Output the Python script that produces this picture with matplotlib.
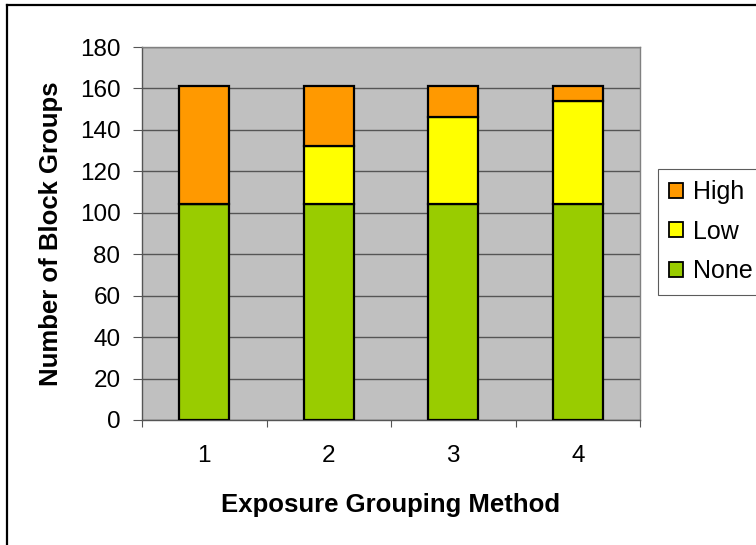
import matplotlib
matplotlib.use("Agg")
import matplotlib.pyplot as plt
from matplotlib.lines import Line2D
from matplotlib.patches import Patch
from matplotlib.ticker import FixedLocator, NullFormatter

categories = ["1", "2", "3", "4"]
none_vals = [104, 104, 104, 104]
low_vals = [0, 28, 42, 50]
high_vals = [57, 29, 15, 7]
series_names = ["High", "Low", "None"]
colors = {"None": "#99CC00", "Low": "#FFFF00", "High": "#FF9900"}
yticks = [0, 20, 40, 60, 80, 100, 120, 140, 160, 180]

plt.rcParams['font.family'] = ['Liberation Sans', 'DejaVu Sans']

W, H = 756, 545
fig = plt.figure(figsize=(W/100, H/100), dpi=100)
# outer frame (only left and top visible in the reference)
fig.add_artist(Line2D([7/W, 7/W], [0, 1-5/H], transform=fig.transFigure, color='black', linewidth=1.6))
fig.add_artist(Line2D([7/W, 1], [1-5/H, 1-5/H], transform=fig.transFigure, color='black', linewidth=1.6))

ax = fig.add_axes([142/W, 1-420/H, (640-142)/W, (420-47)/H])
ax.set_facecolor('#C0C0C0')

x = list(range(1, len(categories)+1))
w = 0.4
bottom_low = none_vals
bottom_high = [a+b for a, b in zip(none_vals, low_vals)]
ax.bar(x, none_vals, w, color=colors["None"], edgecolor='black', linewidth=1.6, zorder=3)
ax.bar(x, low_vals, w, bottom=bottom_low, color=colors["Low"], edgecolor='black', linewidth=1.6, zorder=3)
ax.bar(x, high_vals, w, bottom=bottom_high, color=colors["High"], edgecolor='black', linewidth=1.6, zorder=3)

ax.set_xlim(0.5, len(categories)+0.5)
ax.set_ylim(0, 180)
ax.set_yticks(yticks)
ax.yaxis.grid(True, color='#555555', linewidth=1.0, zorder=1)
ax.set_axisbelow(True)

ax.xaxis.set_major_locator(FixedLocator([i+0.5 for i in range(len(categories)+1)]))
ax.xaxis.set_major_formatter(NullFormatter())
ax.xaxis.set_minor_locator(FixedLocator(x))
ax.set_xticklabels(categories, minor=True)
ax.tick_params(axis='x', which='major', length=5, color='#555555', direction='out')
ax.tick_params(axis='x', which='minor', length=0, labelsize=17.5, pad=18)
ax.tick_params(axis='y', length=6.5, color='#555555', labelsize=17.5, pad=9, direction='out')

for s in ['top', 'right']:
    ax.spines[s].set_color('#808080')
    ax.spines[s].set_linewidth(1.0)
for s in ['left', 'bottom']:
    ax.spines[s].set_color('#555555')
    ax.spines[s].set_linewidth(1.0)

ax.set_ylabel("Number of Block Groups", fontsize=18.5, fontweight='bold')
ax.yaxis.label.set_va('center')
ax.yaxis.set_label_coords((51-142)/498, 0.5)
ax.set_xlabel("Exposure Grouping Method", fontsize=18.5, fontweight='bold')
ax.xaxis.label.set_va('baseline')
ax.xaxis.set_label_coords(0.5, (420-512)/373)

handles = [Patch(facecolor=colors[n], edgecolor='black', linewidth=1.3) for n in series_names]
leg = fig.legend(handles, series_names, loc='upper left', bbox_to_anchor=(658/W, 1-169/H),
                 fontsize=18, frameon=True, fancybox=False, edgecolor='#333333',
                 handlelength=0.55, handleheight=0.55, handletextpad=0.4, labelspacing=0.62,
                 borderpad=0.45, borderaxespad=0)
leg.get_frame().set_linewidth(0.8)

fig.savefig("out.png", dpi=100, facecolor='white')
